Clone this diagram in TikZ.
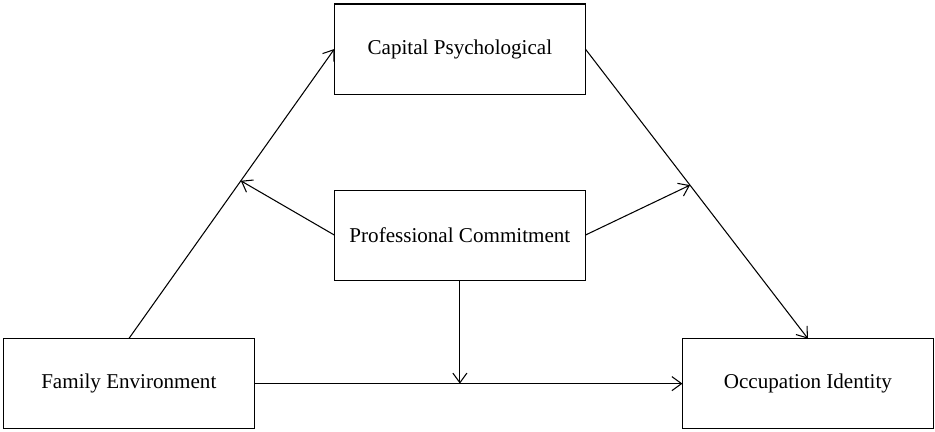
\documentclass[tikz,border=0pt]{standalone}
\usepackage{fontspec}
\setmainfont{Liberation Serif}
\usetikzlibrary{matrix,arrows.meta}

\begin{document}
\begin{tikzpicture}[line width=0.6pt, >={Straight Barb[length=5.5pt,width=8pt]}]
  \useasboundingbox (0,0) rectangle (18.7,-8.64);
  \matrix (m) [matrix of nodes, anchor=north west, inner sep=0pt, outer sep=0pt,
    nodes={draw, anchor=center, minimum width=5.02cm, minimum height=1.8cm, font=\fontsize{12}{14}\selectfont}]
    at (0.056,-0.07)
  {
                     &[1.58cm] Capital Psychological   &[1.92cm]  \\[1.9cm]
                     & Professional Commitment &  \\[1.15cm]
 Family Environment  &  & Occupation Identity \\
};
  \path[->]
  (m-3-1.north) edge node [coordinate, pos=0.545] (lft) {} (m-1-2.west)
  (m-1-2.east) edge node [coordinate, pos=0.47] (rgt) {} (m-3-3.north)
  (m-3-1.east) edge (m-3-3.west)
  ;
  \coordinate (mid) at (m-2-2.south |- m-3-1.east);
  \path[->]
  (m-2-2.west) edge (lft)
  (m-2-2.east) edge (rgt)
  (m-2-2.south) edge (mid)
  ;
\end{tikzpicture}
\end{document}
